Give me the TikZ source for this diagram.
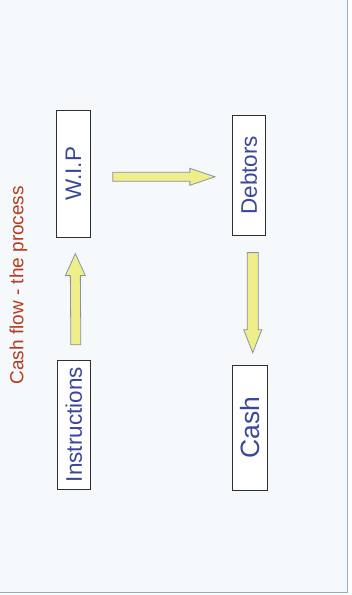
\documentclass[tikz,border=0pt]{standalone}
\usepackage{fontspec}
\setmainfont{Liberation Sans}
\usetikzlibrary{calc}
\definecolor{pagebg}{HTML}{F5F9FC}
\definecolor{pageedge}{HTML}{8FAFC3}
\definecolor{titlered}{HTML}{B83A1E}
\definecolor{labelblue}{HTML}{3A479B}
\definecolor{arrowfill}{HTML}{EEEE8A}
\definecolor{arrowedge}{HTML}{8A90A6}
\definecolor{boxedge}{HTML}{303030}
\tikzset{
  stagebox/.style={draw=boxedge, line width=0.8pt, fill=white, inner sep=0pt,
    text=labelblue, font=\fontsize{22.5}{22.5}\selectfont},
  blockarrow/.style={draw=arrowedge, line width=0.8pt, fill=arrowfill, line join=miter},
}
\begin{document}
\begin{tikzpicture}[x=1pt, y=-1pt]
  % page and its frame
  \fill[white] (0,0) rectangle (351,595);
  \fill[pagebg] (0,0) rectangle (347.5,592);
  \draw[pageedge, line width=0.8pt] (347.5,0) -- (347.5,592) -- (0,592);
  \useasboundingbox (0,0) rectangle (351,595);

  % heading
  \node[text=titlered, font=\fontsize{19}{19}\selectfont, rotate=90] (title) at (18,285)
    {Cash flow - the process};

  % the four stages
  \node[stagebox, minimum width=34pt, minimum height=127pt] (wip) at (73,173.5)
    {\rotatebox{90}{W.I.P}};
  \node[stagebox, minimum width=33pt, minimum height=120pt] (deb) at (248.5,175)
    {\rotatebox{90}{Debtors}};
  \node[stagebox, minimum width=33pt, minimum height=129pt] (instr) at (73.5,424.5)
    {\rotatebox{90}{Instructions}};
  \node[stagebox, minimum width=35pt, minimum height=125pt,
    font=\fontsize{26.5}{26.5}\selectfont] (cash) at (249.5,427.5)
    {\rotatebox{90}{Cash}};

  % block arrows between the stages
  \coordinate (upS) at ($(instr.north)+(2,-15)$);
  \coordinate (upT) at ($(wip.south)+(2,16)$);
  \draw[blockarrow] ($(upS)+(-5,0)$) -- ($(upT)+(-5,22)$) -- ($(upT)+(-10,22)$) -- (upT)
    -- ($(upT)+(10,22)$) -- ($(upT)+(5,22)$) -- ($(upS)+(5,0)$) -- cycle;

  \coordinate (rtS) at ($(wip.east)+(22,3)$);
  \coordinate (rtT) at ($(deb.west)+(-17,1.5)$);
  \draw[blockarrow] ($(rtS)+(0,-4.5)$) -- ($(rtT)+(-25,-4.5)$) -- ($(rtT)+(-25,-8.5)$) -- (rtT)
    -- ($(rtT)+(-25,8.5)$) -- ($(rtT)+(-25,4.5)$) -- ($(rtS)+(0,4.5)$) -- cycle;

  \coordinate (dnS) at ($(deb.south)+(4,17)$);
  \coordinate (dnT) at ($(cash.north)+(3,-12)$);
  \draw[blockarrow] ($(dnS)+(-5.5,0)$) -- ($(dnT)+(-5.5,-23)$) -- ($(dnT)+(-9,-23)$) -- (dnT)
    -- ($(dnT)+(9,-23)$) -- ($(dnT)+(5.5,-23)$) -- ($(dnS)+(5.5,0)$) -- cycle;
\end{tikzpicture}
\end{document}
